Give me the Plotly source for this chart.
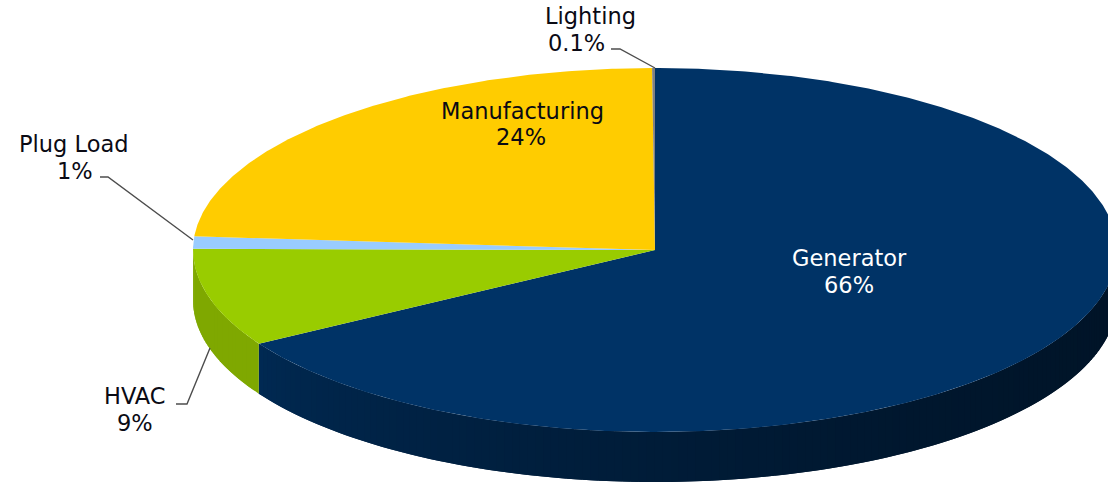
import numpy as np
import plotly.graph_objects as go

# Data
categories = ["Generator", "HVAC", "Plug Load", "Manufacturing", "Lighting"]
shares = [66.4, 8.7, 1.1, 23.7, 0.1]
share_labels = ["66%", "9%", "1%", "24%", "0.1%"]

# Styles
top_colors = ["#003366", "#99CC00", "#99CCFF", "#FFCC00", "#808080"]
side_dark = {"Generator": ((0, 42, 84), (0, 20, 40)), "HVAC": ((127, 168, 0), (127, 168, 0))}
FONT = "DejaVu Sans"
FS = 22.5
TEXT_DARK = "#0a0a14"
WIDTH, HEIGHT = 1108, 482

# Pie projection (tilted disc)
CX, CY, RX, RY, DEPTH = 655, 250, 462, 182, 50

label_pos = {
    "Generator": ((849, 258), (849, 284.5), "white"),
    "HVAC": ((135, 396), (135, 422.5), TEXT_DARK),
    "Plug Load": ((74, 144), (75, 170.5), TEXT_DARK),
    "Manufacturing": ((522, 110.5), (521, 137), TEXT_DARK),
    "Lighting": ((590, 16), (576, 42.5), TEXT_DARK),
}
leaders = {
    "HVAC": ([176, 187, 210], [404, 404, 348]),
    "Plug Load": ([100, 108, 193], [177, 177, 240]),
    "Lighting": ([611, 620, 655], [49, 49, 68]),
}


def edge(theta_deg):
    t = np.radians(theta_deg)
    return CX + RX * np.sin(t), CY - RY * np.cos(t)


total = sum(shares)
bounds = np.concatenate([[0], np.cumsum(shares) / total * 360])

fig = go.Figure()


def poly(x, y, color, lw=0.0):
    fig.add_trace(go.Scatter(x=list(x), y=list(y), mode="lines", fill="toself",
                             fillcolor=color, line=dict(width=lw, color=color),
                             hoverinfo="skip", showlegend=False))


def side_rgb(cat, x):
    c_left, c_right = side_dark[cat]
    frac = np.clip((x - 258) / (1108 - 258), 0, 1) ** 0.6
    c = [round(c_left[k] + (c_right[k] - c_left[k]) * frac) for k in range(3)]
    return f"rgb({c[0]},{c[1]},{c[2]})"


# Side wall: only the front half of the disc shows
for i, cat in enumerate(categories):
    a0, a1 = max(bounds[i], 90), min(bounds[i + 1], 270)
    if a1 <= a0 or cat not in side_dark:
        continue
    n = max(2, int((a1 - a0) / 1.0))
    steps = np.linspace(a0, a1, n + 1)
    for s0, s1 in zip(steps[:-1], steps[1:]):
        th = np.linspace(s0, min(s1 + 1.0, a1), 5)
        ex, ey = edge(th)
        xs = np.concatenate([ex, ex[::-1]])
        ys = np.concatenate([ey, ey[::-1] + DEPTH])
        poly(xs, ys, side_rgb(cat, edge((s0 + s1) / 2)[0]))

# Top face
for i, cat in enumerate(categories):
    th = np.linspace(bounds[i], bounds[i + 1], max(3, int(shares[i] * 8)))
    ex, ey = edge(th)
    poly(np.concatenate([[CX], ex, [CX]]), np.concatenate([[CY], ey, [CY]]), top_colors[i])

# Leader lines
for cat, (lx, ly) in leaders.items():
    fig.add_trace(go.Scatter(x=lx, y=ly, mode="lines", line=dict(color="#4d4d4d", width=1.4),
                             hoverinfo="skip", showlegend=False))

# Labels
annotations = []
for cat, lab in zip(categories, share_labels):
    p1, p2, col = label_pos[cat]
    for (px, py), txt in ((p1, cat), (p2, lab)):
        annotations.append(dict(x=px, y=py, xref="x", yref="y", text=txt, showarrow=False,
                                xanchor="center", yanchor="middle", borderpad=0, borderwidth=0,
                                font=dict(family=FONT, size=FS, color=col)))

fig.update_layout(
    width=WIDTH, height=HEIGHT, autosize=False,
    margin=dict(l=0, r=0, t=0, b=0),
    paper_bgcolor="white", plot_bgcolor="white",
    showlegend=False, annotations=annotations,
    xaxis=dict(range=[0, WIDTH], visible=False, fixedrange=True),
    yaxis=dict(range=[HEIGHT, 0], visible=False, fixedrange=True),
)
fig.write_html("out.html", config={"displayModeBar": False},
               post_script="document.body.style.margin='0';document.documentElement.style.overflow='hidden';")
